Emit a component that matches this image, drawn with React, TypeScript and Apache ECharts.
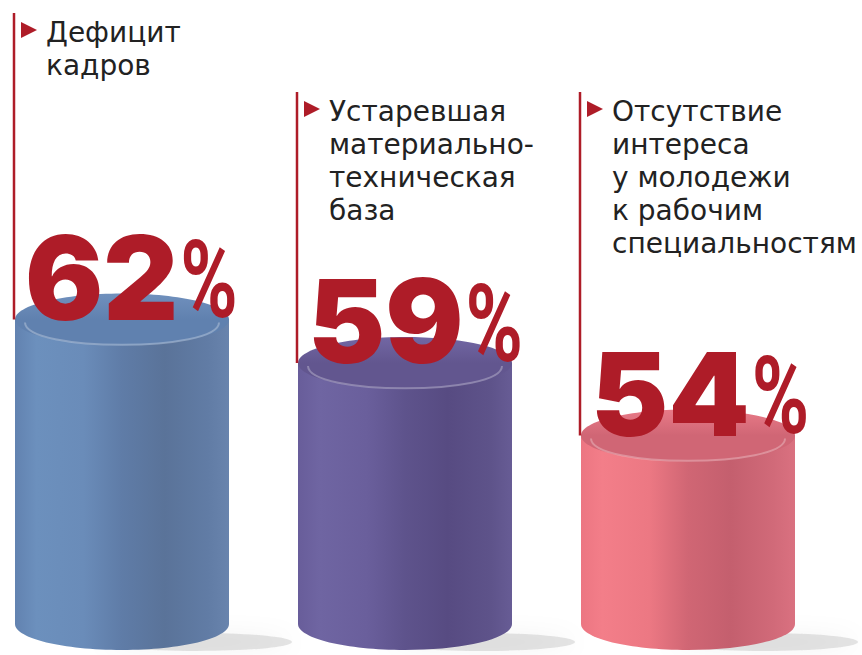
import React, { useEffect, useRef } from "react";
import * as echarts from "echarts";

// ---- data ----
const categories: string[] = [
  "Дефицит\nкадров",
  "Устаревшая\nматериально-\nтехническая\nбаза",
  "Отсутствие\nинтереса\nу молодежи\nк рабочим\nспециальностям",
];
const values: number[] = [62, 59, 54];
const unit = "%";

// ---- styles / layout ----
const AXIS_MIN = 41;
const AXIS_MAX = 80;
const RED = "#ae1c28";
const TEXT = "#222222";
const RX = 107;
const RY = 26;
const LABEL_TOP = [16, 95, 95];
const LINE_TOP = [13, 92, 92];
const BODY_STOPS: [number, string][][] = [
  [[0, "#6282b0"], [0.1, "#6c90bd"], [0.32, "#6a8cb9"], [0.5, "#5f7ca7"], [0.7, "#5a7399"], [0.9, "#617ca5"], [1, "#6984ad"]],
  [[0, "#685d9a"], [0.1, "#6f65a2"], [0.32, "#6a5f9c"], [0.5, "#5e538c"], [0.7, "#574b82"], [0.9, "#5e538a"], [1, "#675c95"]],
  [[0, "#ec7682"], [0.1, "#f37e89"], [0.32, "#ec7883"], [0.5, "#d06674"], [0.7, "#c45f6e"], [0.9, "#d16a79"], [1, "#da7180"]],
];
const TOP_STOPS: [string, string][] = [
  ["#7090bd", "#6081af"],
  ["#7267a4", "#62568f"],
  ["#e87a87", "#d06675"],
];

const NUM_FONT = { family: "Inter", weight: 900, size: 116 };
const PCT_FONT = { family: "Roboto", weight: 700, size: 108, scaleX: 0.72 };

function measure(text: string, font: string): number {
  const c = document.createElement("canvas").getContext("2d");
  if (!c) return text.length * 60;
  c.font = font;
  return c.measureText(text).width;
}

function grad(stops: [number, string][]) {
  return new echarts.graphic.LinearGradient(
    0, 0, 1, 0,
    stops.map(([offset, color]) => ({ offset, color }))
  );
}

export default function App() {
  const ref = useRef<HTMLDivElement>(null);
  useEffect(() => {
    if (!ref.current) return;
    const chart = echarts.init(ref.current, undefined, { renderer: "svg" });

    const renderItem = (params: any, api: any) => {
      const idx = api.value(0);
      const val = api.value(1);
      const top = api.coord([idx, val]);
      const base = api.coord([idx, AXIS_MIN]);
      const cx = top[0];
      const ty = top[1];
      const by = base[1];
      const left = cx - RX;
      const fill = grad(BODY_STOPS[idx]);
      const numText = String(values[idx]);
      const numW = measure(numText, `${NUM_FONT.weight} ${NUM_FONT.size}px ${NUM_FONT.family}`);
      const numX = cx - 97;
      const textX = left + 31;
      const ly = LABEL_TOP[idx];
      const k = 4 / 3;
      return {
        type: "group",
        children: [
          {
            type: "ellipse",
            shape: { cx: cx + 75, cy: by + 18, rx: 95, ry: 9 },
            style: { fill: "rgba(90,90,90,0.16)", shadowBlur: 22, shadowColor: "rgba(0,0,0,0.3)" },
          },
          {
            type: "ellipse",
            shape: { cx, cy: by, rx: RX, ry: RY },
            style: { fill },
          },
          {
            type: "rect",
            shape: { x: left, y: ty, width: RX * 2, height: by - ty },
            style: { fill },
          },
          {
            type: "ellipse",
            shape: { cx, cy: ty, rx: RX, ry: RY },
            style: {
              fill: new echarts.graphic.LinearGradient(0, 0, 0, 1, [
                { offset: 0, color: TOP_STOPS[idx][0] },
                { offset: 0.5, color: TOP_STOPS[idx][1] },
                { offset: 1, color: TOP_STOPS[idx][1] },
              ]),
            },
          },
          {
            type: "bezierCurve",
            shape: {
              x1: left + 10, y1: ty + 3,
              x2: left + RX * 2 - 10, y2: ty + 3,
              cpx1: left + 10, cpy1: ty + RY * k - 2,
              cpx2: left + RX * 2 - 10, cpy2: ty + RY * k - 2,
            },
            style: { fill: null, stroke: "rgba(255,255,255,0.28)", lineWidth: 2 },
          },
          {
            type: "line",
            shape: { x1: left - 1, y1: LINE_TOP[idx], x2: left - 1, y2: ty },
            style: { stroke: RED, lineWidth: 2.5 },
          },
          {
            type: "polygon",
            shape: { points: [[textX - 25, ly + 6], [textX - 9, ly + 14], [textX - 25, ly + 22]] },
            style: { fill: RED },
          },
          {
            type: "text",
            x: textX,
            y: ly,
            style: {
              text: categories[idx],
              fill: TEXT,
              fontFamily: "DejaVu Sans",
              fontSize: 28,
              lineHeight: 33,
              align: "left",
              verticalAlign: "top",
            },
          },
          {
            type: "text",
            x: numX,
            y: ty - 42,
            style: {
              text: numText,
              fill: RED,
              fontFamily: NUM_FONT.family,
              fontWeight: NUM_FONT.weight,
              fontSize: NUM_FONT.size,
              align: "left",
              verticalAlign: "middle",
            },
          },
          {
            type: "text",
            x: numX + numW + 2,
            y: ty - 39,
            scaleX: PCT_FONT.scaleX,
            style: {
              text: unit,
              fill: RED,
              fontFamily: PCT_FONT.family,
              fontWeight: PCT_FONT.weight,
              fontSize: PCT_FONT.size,
              align: "left",
              verticalAlign: "middle",
            },
          },
        ],
      };
    };

    chart.setOption({
      animation: false,
      backgroundColor: "#ffffff",
      grid: { left: 122, right: 174, top: 58.5, bottom: 31 },
      xAxis: { type: "category", data: categories, boundaryGap: false, show: false },
      yAxis: { type: "value", min: AXIS_MIN, max: AXIS_MAX, show: false },
      series: [
        {
          type: "custom",
          clip: false,
          data: values.map((v, i) => [i, v]),
          renderItem,
        },
      ],
    });
    return () => chart.dispose();
  }, []);
  return (
    <div
      ref={ref}
      style={{ position: "absolute", left: 0, top: 0, width: 862, height: 655 }}
    />
  );
}
